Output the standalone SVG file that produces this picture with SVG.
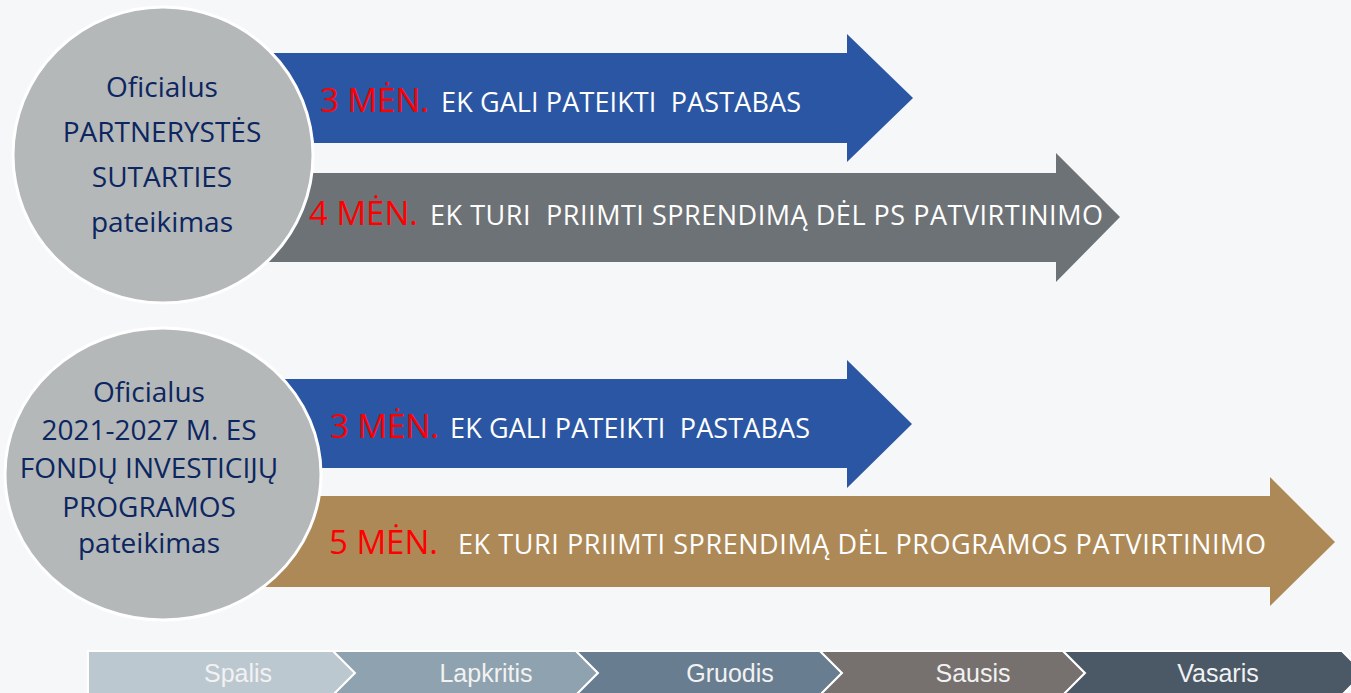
<svg xmlns="http://www.w3.org/2000/svg" width="1351" height="693" viewBox="0 0 1351 693">
<style>
.bg{fill:#f6f7f9}
.circ{fill:#b5b8b9;stroke:#ffffff;stroke-width:3}
.ctext{font-family:"Open Sans","Liberation Sans",sans-serif;font-size:28px;fill:#0c2660;text-anchor:middle}
.red{font-family:"Open Sans","Liberation Sans",sans-serif;font-size:33px;fill:#ff0000}
.wt{font-family:"Open Sans","Liberation Sans",sans-serif;font-size:27px;fill:#ffffff}
.seg{stroke:#ffffff;stroke-width:2}
.mt{font-family:"Liberation Sans",Arial,sans-serif;font-size:25px;fill:#f2f2f2;text-anchor:middle}
</style>
<rect class="bg" x="0" y="0" width="1351" height="693"/>

<g id="arrow-ps-3men">
<polygon points="150,53 847,53 847,34 913,98 847,162 847,143 150,143" fill="#2b56a3"/>
<text x="320" y="112" class="red">3 MĖN.</text>
<text x="441" y="112" class="wt" textLength="360" lengthAdjust="spacing" xml:space="preserve">EK GALI PATEIKTI  PASTABAS</text>
</g>
<g id="arrow-ps-4men">
<polygon points="150,173 1056,173 1056,153 1120,217 1056,282 1056,262 150,262" fill="#6d7276"/>
<text x="309" y="225" class="red">4 MĖN.</text>
<text x="430" y="225" class="wt" textLength="673" lengthAdjust="spacing" xml:space="preserve">EK TURI  PRIIMTI SPRENDIMĄ DĖL PS PATVIRTINIMO</text>
</g>
<g id="node-ps">
<ellipse class="circ" cx="163" cy="155" rx="150" ry="148"/>
<text class="ctext" x="162" y="97">Oficialus</text>
<text class="ctext" x="162" y="142">PARTNERYSTĖS</text>
<text class="ctext" x="162" y="187">SUTARTIES</text>
<text class="ctext" x="162" y="232">pateikimas</text>
</g>

<g id="arrow-prog-3men">
<polygon points="150,379 847,379 847,360 912,424 847,488 847,468 150,468" fill="#2b56a3"/>
<text x="330" y="438" class="red">3 MĖN.</text>
<text x="450" y="438" class="wt" textLength="360" lengthAdjust="spacing" xml:space="preserve">EK GALI PATEIKTI  PASTABAS</text>
</g>
<g id="arrow-prog-5men">
<polygon points="150,496 1270,496 1270,477 1335,542 1270,606 1270,587 150,587" fill="#ad8958"/>
<text x="329" y="554" class="red">5 MĖN.</text>
<text x="458" y="554" class="wt" textLength="808" lengthAdjust="spacing">EK TURI PRIIMTI SPRENDIMĄ DĖL PROGRAMOS PATVIRTINIMO</text>
</g>
<g id="node-prog">
<ellipse class="circ" cx="163" cy="474" rx="158" ry="146"/>
<text class="ctext" x="149" y="402">Oficialus</text>
<text class="ctext" x="149" y="440">2021-2027 M. ES</text>
<text class="ctext" x="149" y="478">FONDŲ INVESTICIJŲ</text>
<text class="ctext" x="149" y="517">PROGRAMOS</text>
<text class="ctext" x="149" y="553">pateikimas</text>
</g>

<g id="timeline">
<g id="m-spalis">
<polygon class="seg" points="88,651 333,651 355,673 333,695 88,695" fill="#bcc8d0"/>
<text class="mt" x="238" y="682">Spalis</text>
</g>
<g id="m-lapkritis">
<polygon class="seg" points="333,651 576,651 598,673 576,695 333,695 355,673" fill="#8fa2af"/>
<text class="mt" x="486" y="682">Lapkritis</text>
</g>
<g id="m-gruodis">
<polygon class="seg" points="576,651 820,651 842,673 820,695 576,695 598,673" fill="#687d90"/>
<text class="mt" x="730" y="682">Gruodis</text>
</g>
<g id="m-sausis">
<polygon class="seg" points="820,651 1063,651 1085,673 1063,695 820,695 842,673" fill="#76706f"/>
<text class="mt" x="973" y="682">Sausis</text>
</g>
<g id="m-vasaris">
<polygon class="seg" points="1063,651 1342,651 1364,673 1342,695 1063,695 1085,673" fill="#4b5967"/>
<text class="mt" x="1218" y="682">Vasaris</text>
</g>
</g>
<g id="connectors"/>
</svg>
